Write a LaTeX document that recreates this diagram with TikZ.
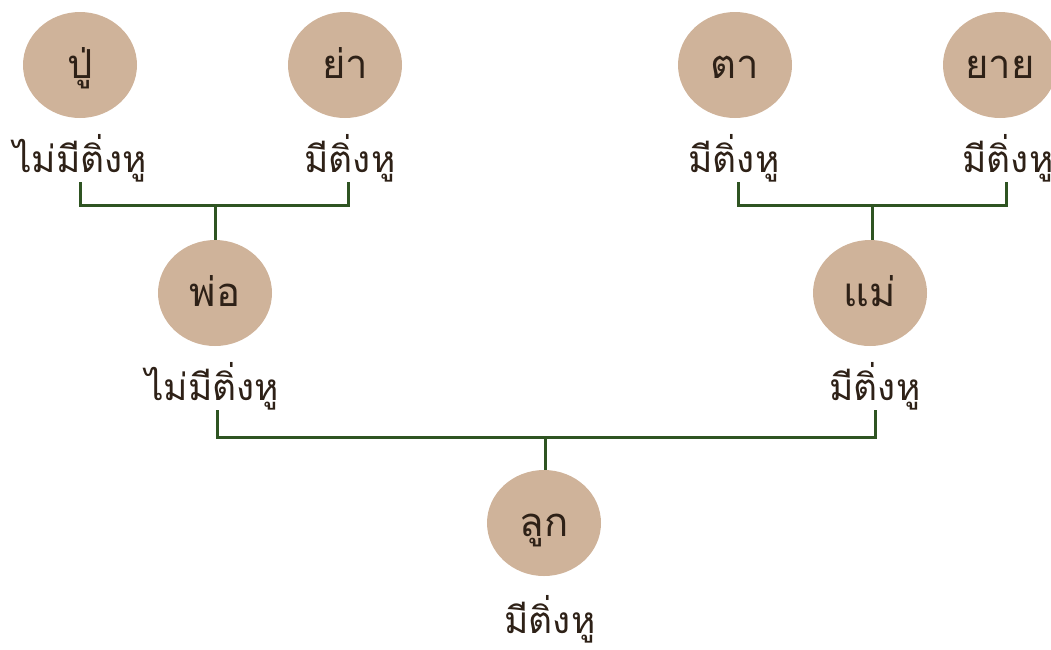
\documentclass[tikz,border=0pt]{standalone}
\usepackage{fontspec}
\newfontfamily\thaifont[Script=Thai]{Loma}
\usetikzlibrary{shapes.geometric}
\definecolor{tan}{HTML}{CFB39A}
\definecolor{ink}{HTML}{2E2117}
\definecolor{linegreen}{HTML}{2F5422}
\tikzset{
  x=1pt, y=-1pt,
  person/.style={ellipse, fill=tan, draw=none, minimum width=114pt, minimum height=106pt, inner sep=0pt,
    text=ink, font=\thaifont\fontsize{40}{42}\selectfont, text height=26pt, text depth=0pt},
  trait/.style={anchor=base, inner sep=0pt, text=ink, font=\thaifont\fontsize{37}{42}\selectfont, text depth=10pt},
  link/.style={draw=linegreen, line width=3pt}
}
\begin{document}
\begin{tikzpicture}
\useasboundingbox (0,0) rectangle (1051,649);
% grandparents
\node[person] (pu) at (80,65) {ปู่};
\node[person] (ya) at (345,65) {ย่า};
\node[person] (ta) at (735,65) {ตา};
\node[person] (yai) at (1000,65) {ยาย};
\node[trait] (puL) at (80,172) {ไม่มีติ่งหู};
\node[trait] (yaL) at (350,172) {มีติ่งหู};
\node[trait] (taL) at (734,172) {มีติ่งหู};
\node[trait] (yaiL) at (1008,172) {มีติ่งหู};
% parents
\node[person] (pho) at (215,293) {พ่อ};
\node[person] (mae) at (870,293) {แม่};
\node[trait] (phoL) at (212,400) {ไม่มีติ่งหู};
\node[trait] (maeL) at (875,400) {มีติ่งหู};
% child
\node[person] (luk) at (544,523) {ลูก};
\node[trait] (lukL) at (550,633) {มีติ่งหู};
% connectors
\coordinate (j1) at (215,205);
\coordinate (j2) at (872,205);
\coordinate (j3) at (545,437);
\draw[link] (puL.south -| 80,0) |- (j1) -| (yaL.south -| 348,0);
\draw[link] (j1) -- (j1 |- pho.north);
\draw[link] (taL.south -| 738,0) |- (j2) -| (yaiL.south -| 1006,0);
\draw[link] (j2) -- (j2 |- mae.north);
\draw[link] (phoL.south -| 217,0) |- (j3) -| (maeL.south -| 875,0);
\draw[link] (j3) -- (j3 |- luk.north);
\end{tikzpicture}
\end{document}
